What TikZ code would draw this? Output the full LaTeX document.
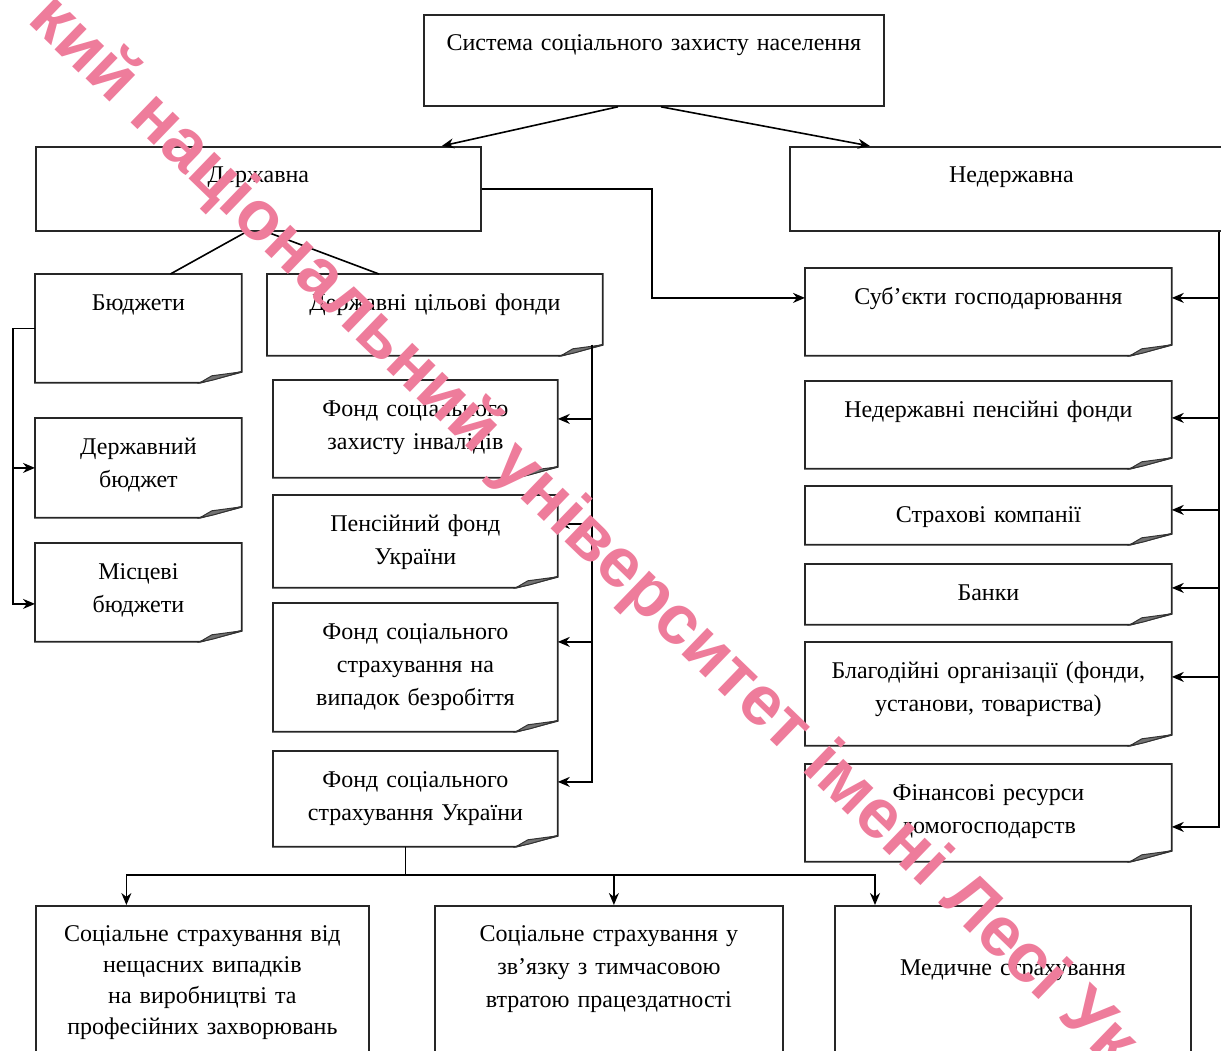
\documentclass[tikz,border=0pt]{standalone}
\usepackage{fontspec}
\setmainfont{Liberation Serif}
\setsansfont{Liberation Sans}
\usetikzlibrary{arrows.meta,positioning,calc}
\definecolor{wmpink}{RGB}{238,124,155}

\begin{document}
\begin{tikzpicture}
[
    x=1pt, y=-1pt,
]

\tikzstyle{box}=[rectangle, draw=black!85, line width=1.8pt, anchor=north west, inner sep=0pt, align=center, text height=36pt, font=\fontsize{24}{33}\selectfont]
\tikzstyle{boxline}=[draw=black!85, line width=1.8pt, line join=miter]
\tikzstyle{flap}=[draw=black!80, fill=black!55, line width=1pt]
\tikzstyle{notebox}=[box, draw=none,
    append after command={\pgfextra
        \draw[boxline] (\tikzlastnode.north west) -- (\tikzlastnode.north east)
            -- ([yshift=11pt]\tikzlastnode.south east) -- ([xshift=-42pt]\tikzlastnode.south east)
            -- (\tikzlastnode.south west) -- cycle;
        \filldraw[flap] ([xshift=-42pt]\tikzlastnode.south east) -- ([xshift=-30pt,yshift=7pt]\tikzlastnode.south east)
            -- ([yshift=11pt]\tikzlastnode.south east) -- ([xshift=-28pt,yshift=3pt]\tikzlastnode.south east) -- cycle;
                                    \endpgfextra}]
\tikzstyle{link}=[draw=black, line width=1.6pt, -{Stealth[length=12pt,width=10pt]}]
\tikzstyle{joint}=[draw=black, line width=1.6pt]
\tikzstyle{wmark}=[text=wmpink, font=\fontsize{70}{70}\sffamily\bfseries, rotate=-44, inner sep=0pt]

\clip (0,0) rectangle (1221,1050);

% top levels
\node [box, text width=460pt, text depth=55pt] (sys) at (423,14) {Система соціального захисту населення};
\node [box, text width=445pt, text depth=48pt] (state) at (35,146) {Державна};
\node [box, text width=443pt, text depth=48pt] (nonstate) at (789,146) {Недержавна};

% state branch
\node [notebox, text width=205pt, text depth=71pt] (budg) at (35,274) {Бюджети};
\node [notebox, text width=205pt, text depth=62pt] (sbud) at (35,418) {Державний\\бюджет};
\node [notebox, text width=205pt, text depth=61pt] (lbud) at (35,543) {Місцеві\\бюджети};
\node [notebox, text width=334pt, text depth=44pt] (funds) at (267,274) {Державні цільові фонди};
\node [notebox, text width=283pt, text depth=60pt] (f1) at (273,380) {Фонд соціального\\захисту інвалідів};
\node [notebox, text width=283pt, text depth=55pt] (f2) at (273,495) {Пенсійний фонд\\України};
\node [notebox, text width=283pt, text depth=91pt] (f3) at (273,603) {Фонд соціального\\страхування на\\випадок безробіття};
\node [notebox, text width=283pt, text depth=58pt] (f4) at (273,751) {Фонд соціального\\страхування України};

% non-state branch
\node [notebox, text width=365pt, text depth=50pt] (subj) at (805,268) {Суб’єкти господарювання};
\node [notebox, text width=365pt, text depth=50pt] (npf) at (805,381) {Недержавні пенсійні фонди};
\node [notebox, text width=365pt, text depth=21pt] (ins) at (805,486) {Страхові компанії};
\node [notebox, text width=365pt, text depth=23pt] (bank) at (805,564) {Банки};
\node [notebox, text width=365pt, text depth=66pt] (char) at (805,642) {Благодійні організації (фонди,\\установи, товариства)};
\node [notebox, text width=365pt, text depth=60pt] (hh) at (805,764) {Фінансові ресурси\\домогосподарств};

% insurance kinds
\node [box, text width=333pt, text depth=134pt, font=\fontsize{24}{31}\selectfont] (b1) at (35,905) {Соціальне страхування від\\нещасних випадків\\на виробництві та\\професійних захворювань};
\node [box, text width=348pt, text depth=134pt] (b2) at (434,905) {Соціальне страхування у\\зв’язку з тимчасовою\\втратою працездатності};
\node [box, text width=356pt, text height=70pt, text depth=100pt] (b3) at (834,905) {Медичне страхування};

\draw [link] ([xshift=-36pt]sys.south) -- ([xshift=-40pt]state.north east);
\draw [link] ([xshift=7pt]sys.south) -- ([xshift=81pt]nonstate.north west);
\draw [joint] ([xshift=-12pt]state.south) -- ([xshift=32pt]budg.north);
\draw [joint] ([xshift=8pt]state.south) -- ([xshift=-56pt]funds.north);
\draw [link] (state.east) -- ++(170,0) |- ([yshift=14pt]subj.west);

\draw [link] (budg.west) -- ++(-22,0) |- (sbud.west);
\draw [link] (budg.west) -- ++(-22,0) |- ([yshift=-11.5pt]lbud.west);

\draw [link] ([xshift=-11pt,yshift=11pt]funds.south east) |- ([yshift=10pt]f1.east);
\draw [link] ([xshift=-11pt,yshift=11pt]funds.south east) |- ([yshift=17.5pt]f2.east);
\draw [link] ([xshift=-11pt,yshift=11pt]funds.south east) |- ([yshift=25.5pt]f3.east);
\draw [link] ([xshift=-11pt,yshift=11pt]funds.south east) |- ([yshift=17pt]f4.east);

\draw [link] ([xshift=430pt]nonstate.south west) |- ([yshift=14pt]subj.east);
\draw [link] ([xshift=430pt]nonstate.south west) |- ([yshift=7pt]npf.east);
\draw [link] ([xshift=430pt]nonstate.south west) |- ([yshift=5.5pt]ins.east);
\draw [link] ([xshift=430pt]nonstate.south west) |- ([yshift=6.5pt]bank.east);
\draw [link] ([xshift=430pt]nonstate.south west) |- ([yshift=17pt]char.east);
\draw [link] ([xshift=430pt]nonstate.south west) |- ([yshift=-14pt]hh.east);

\draw [link] ([xshift=-10pt]f4.south) -- ++(0,28) -| ([xshift=-76pt]b1.north);
\draw [link] ([xshift=-10pt]f4.south) -- ++(0,28) -| ([xshift=5pt]b2.north);
\draw [link] ([xshift=-10pt]f4.south) -- ++(0,28) -| ([xshift=41pt]b3.north west);

%\draw watermark over everything
\node [wmark] (wm) at (582,532) {кий національний університет імені Лесі Ук};
\end{tikzpicture}
\end{document}
